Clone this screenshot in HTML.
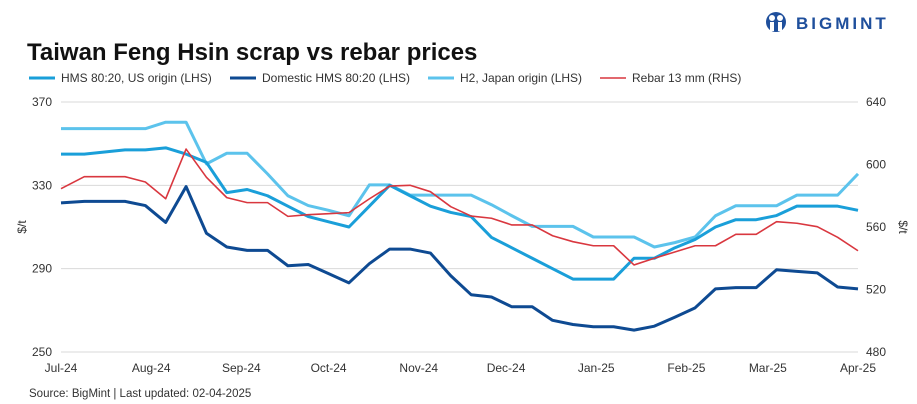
<!DOCTYPE html>
<html><head><meta charset="utf-8"><style>
body{margin:0;background:#fff;width:917px;height:404px;overflow:hidden;font-family:"Liberation Sans",Arial,sans-serif}
svg{display:block}
</style></head><body>
<svg width="917" height="404" xmlns="http://www.w3.org/2000/svg">
<g>
<circle cx="776" cy="22" r="10" fill="#1f4f9c"/>
<circle cx="772" cy="18" r="3" fill="#fff"/><circle cx="780" cy="18" r="3" fill="#fff"/>
<rect x="770" y="22" width="4" height="9" fill="#fff"/><rect x="778" y="22" width="4" height="9" fill="#fff"/>
<text x="796" y="29" font-size="17" font-weight="bold" fill="#1f4f9c" letter-spacing="3">BIGMINT</text>
</g>
<text x="27" y="60" font-size="24" font-weight="bold" fill="#111">Taiwan Feng Hsin scrap vs rebar prices</text>
<g id="legend" font-size="12" fill="#333"></g>
<g id="grid"></g>
<g id="series"></g>
<g id="axes" font-size="12" fill="#333"></g>
<text transform="translate(26,227) rotate(-90)" text-anchor="middle" font-size="12" fill="#333">$/t</text>
<text transform="translate(899,227) rotate(90)" text-anchor="middle" font-size="12" fill="#333">$/t</text>
<text x="29" y="397" font-size="11.5" fill="#333">Source: BigMint |  Last updated: 02-04-2025</text>
</svg>
<script>
const days=[0,8,15,22,29,36,43,50,57,64,71,78,85,92,99,106,113,120,127,134,141,148,155,162,169,176,183,190,197,204,211,218,225,232,239,246,253,260,267,274];
const hmsUS=[345,345,346,347,347,348,345,341,326.5,328,325,320,315,312.5,310,320,330,325,320,317,315,305,300,295,290,285,285,285,295,295,300,304,310,313.5,313.5,315.5,320,320,320,318];
const domestic=[321.6,322.3,322.3,322.3,320.3,312.2,329.4,307,300.4,298.8,298.8,291.4,292,287.6,283.2,292.4,299.4,299.4,297.5,286.6,277.5,276.4,271.7,271.7,265.2,263.2,262.1,262.1,260.5,262.4,266.7,271.2,280.3,280.9,280.9,289.5,288.7,288,281.2,280.3];
const h2Japan=[357.2,357.2,357.2,357.2,357.2,360.3,360.3,340.3,345.4,345.4,335.5,325,320.3,318,315.4,330.2,330.2,325.3,325.3,325.3,325.3,320.7,315.4,310.3,310.3,310.3,305.2,305.2,305.2,300.4,302.5,305.2,315.4,320.2,320.2,320.2,325.3,325.3,325.3,335.5];
const rebar=[584.5,592.2,592.2,592.2,588.8,578.1,609.9,591.8,578.8,575.6,575.6,566.8,567.9,568.5,569.2,578,586.2,586.7,582.6,573,567,565.6,561.3,561.3,554.4,550.6,548,548,535.7,540,544,548,548,555.3,555.3,563.4,562.4,560.2,553.4,544.8];
const leftTicks=[250,290,330,370];
const rightTicks=[480,520,560,600,640];
const monthLabels=["Jul-24","Aug-24","Sep-24","Oct-24","Nov-24","Dec-24","Jan-25","Feb-25","Mar-25","Apr-25"];
const monthDays=[0,31,62,92,123,153,184,215,243,274];
const legendLabels=["HMS 80:20, US origin (LHS)","Domestic HMS 80:20 (LHS)","H2, Japan origin (LHS)","Rebar 13 mm (RHS)"];

const NS="http://www.w3.org/2000/svg";
const X0=61,X1=858,YT=102,YB=352;
const x=d=>X0+(d-0)/(274-0)*(X1-X0);
const yL=v=>YB-(v-250)/(370-250)*(YB-YT);
const yR=v=>YB-(v-480)/(640-480)*(YB-YT);
function mk(tag,attrs,parent){const e=document.createElementNS(NS,tag);for(const k in attrs)e.setAttribute(k,attrs[k]);parent.appendChild(e);return e;}
const grid=document.getElementById('grid'),axes=document.getElementById('axes'),ser=document.getElementById('series'),leg=document.getElementById('legend');
leftTicks.forEach(t=>{
 const l=mk('line',{x1:X0,x2:X1,y1:yL(t),y2:yL(t),stroke:'#d9d9d9','stroke-width':1},grid);
 
 
 const tx=mk('text',{x:52,y:yL(t)+4,'text-anchor':'end'},axes);tx.textContent=t;
 
 
});
rightTicks.forEach(t=>{
 const tx=mk('text',{x:866,y:yR(t)+4},axes);tx.textContent=t;
 
 
});
monthLabels.forEach((m,i)=>{
 const tx=mk('text',{x:x(monthDays[i]),y:372,'text-anchor':'middle'},axes);tx.textContent=m;
 
 
});
const defs=[[hmsUS,yL,'#1a9fd9',3,'series-hms-us'],[domestic,yL,'#0e4a92',3,'series-domestic-hms'],[h2Japan,yL,'#5cc3ec',3,'series-h2-japan'],[rebar,yR,'#d9373f',1.6,'series-rebar']];
const order=[2,0,3,1];
order.forEach(i=>{const [vals,ys,c,w,n]=defs[i];
 const p=mk('polyline',{points:vals.map((v,j)=>x(days[j])+','+ys(v)).join(' '),fill:'none',stroke:c,'stroke-width':w,'stroke-linejoin':'round'},ser);
 
 
});
const lx=[29,230,428,600];
legendLabels.forEach((t,i)=>{
 const g=mk('g',{},leg);
 
 
 mk('line',{x1:lx[i],x2:lx[i]+26,y1:78,y2:78,stroke:defs[i][2],'stroke-width':defs[i][3]},g);
 const tx=mk('text',{x:lx[i]+32,y:82},g);tx.textContent=t;
});
</script>
</body></html>
